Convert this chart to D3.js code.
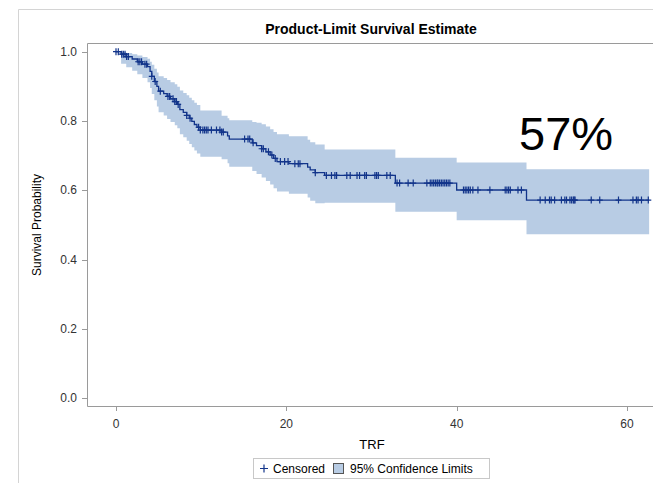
<!DOCTYPE html>
<html>
<head>
<meta charset="utf-8">
<script src="https://cdn.jsdelivr.net/npm/d3@7"></script>
<style>
  html, body { margin: 0; padding: 0; background: #fff; }
  svg { display: block; font-family: "Liberation Sans", Arial, sans-serif; }
</style>
</head>
<body>
<svg id="chart" width="653" height="483"></svg>
<script>
// Kaplan-Meier step values (time at which survival drops, value after the drop)
const eventTimes = [0, 0.6, 1.2, 1.9, 2.5, 3.1, 3.7, 4.0, 4.2, 4.5, 4.8, 5.0, 5.6, 6.0, 6.4, 6.9,
  7.2, 7.5, 7.9, 8.3, 8.6, 8.9, 9.2, 9.5, 9.9, 12.4, 13.1, 13.3, 16.0, 16.5, 17.1, 17.6,
  18.1, 18.5, 18.9, 20.3, 22.5, 22.8, 23.4, 24.5, 32.8, 40.0, 48.2];
const survival = [1.0, 0.993, 0.986, 0.979, 0.971, 0.964, 0.957, 0.943, 0.929, 0.914, 0.900, 0.886,
  0.879, 0.871, 0.864, 0.856, 0.848, 0.833, 0.825, 0.816, 0.808, 0.799, 0.790, 0.782, 0.774,
  0.768, 0.757, 0.748, 0.737, 0.729, 0.720, 0.711, 0.702, 0.692, 0.683, 0.677, 0.667, 0.659,
  0.651, 0.643, 0.621, 0.601, 0.572];
const lowerCL = [1.0, 0.965, 0.955, 0.945, 0.935, 0.924, 0.912, 0.895, 0.878, 0.860, 0.842, 0.825,
  0.816, 0.806, 0.797, 0.788, 0.779, 0.762, 0.753, 0.743, 0.734, 0.724, 0.715, 0.706, 0.697,
  0.690, 0.678, 0.668, 0.656, 0.647, 0.637, 0.627, 0.617, 0.606, 0.597, 0.590, 0.579, 0.570,
  0.563, 0.564, 0.538, 0.514, 0.473];
const upperCL = [1.0, 0.999, 0.996, 0.993, 0.989, 0.985, 0.980, 0.971, 0.962, 0.951, 0.940, 0.929,
  0.924, 0.918, 0.912, 0.906, 0.899, 0.888, 0.881, 0.874, 0.867, 0.860, 0.853, 0.846, 0.830,
  0.815, 0.808, 0.802, 0.797, 0.795, 0.791, 0.784, 0.776, 0.768, 0.762, 0.756, 0.746, 0.739,
  0.732, 0.718, 0.694, 0.680, 0.661];
const endTime = 62.6;

const censorTimes = [0, 0.27, 0.67, 0.86, 1.06, 1.25, 1.45, 2.6, 2.8, 3.0, 3.4, 3.6, 4.2, 4.6,
  5.2, 6.1, 6.3, 6.7, 6.9, 7.1, 7.3, 8.3, 8.7, 9.7, 9.9, 10.2, 10.4, 10.6, 10.8, 11.2, 11.8,
  12.2, 12.4, 12.6, 15.1, 15.5, 15.7, 16.1, 17.1, 17.3, 17.9, 18.3, 18.7, 19.3, 19.8, 20.2,
  21.0, 21.4, 21.6, 23.4, 24.7, 25.3, 25.7, 25.9, 27.1, 27.5, 28.3, 28.6, 29.2, 29.4, 30.4,
  30.6, 30.8, 31.8, 32.2, 33.0, 33.3, 34.3, 34.9, 36.5, 36.9, 37.1, 37.3, 37.5, 37.7, 37.8,
  38.0, 38.2, 38.4, 38.6, 38.8, 39.0, 39.2, 40.8, 41.0, 41.2, 41.4, 41.6, 41.9, 42.5, 43.9,
  45.7, 45.9, 46.1, 46.3, 47.2, 47.6, 49.8, 50.4, 50.9, 51.1, 51.5, 52.3, 52.7, 52.9, 53.3,
  53.5, 53.7, 53.8, 53.9, 55.8, 56.8, 59.0, 60.7, 61.1, 61.3, 61.7, 62.5];

const xTicks = [0, 20, 40, 60];
const yTicks = [0, 0.2, 0.4, 0.6, 0.8, 1.0];
const yTickLabels = ["0.0", "0.2", "0.4", "0.6", "0.8", "1.0"];

const lineColor = "#12348a";
const bandColor = "#b8cce4";
const frameColor = "#9a9a9a";

const svg = d3.select("#chart");

const frame = { left: 87, top: 43, right: 660, bottom: 406 };
const x = d3.scaleLinear().domain([0, 60]).range([116, 627]);
const y = d3.scaleLinear().domain([0, 1]).range([398.3, 51.7]);

// outer graph border
svg.append("path")
  .attr("d", "M18.5,490V9.5H660")
  .attr("fill", "none")
  .attr("stroke", "#d4d4d4");

svg.append("text")
  .attr("x", 371)
  .attr("y", 34)
  .attr("text-anchor", "middle")
  .attr("font-size", 14)
  .attr("font-weight", "bold")
  .attr("fill", "#000")
  .text("Product-Limit Survival Estimate");

// step series
const steps = eventTimes.map((t, i) => ({ t, s: survival[i], lo: lowerCL[i], hi: upperCL[i] }));
steps.push({ t: endTime, s: survival[survival.length - 1], lo: lowerCL[lowerCL.length - 1], hi: upperCL[upperCL.length - 1] });

const plot = svg.append("g");

plot.append("path")
  .datum(steps)
  .attr("fill", bandColor)
  .attr("d", d3.area()
    .curve(d3.curveStepAfter)
    .x((d) => x(d.t))
    .y0((d) => y(d.lo))
    .y1((d) => y(d.hi)));

plot.append("path")
  .datum(steps)
  .attr("fill", "none")
  .attr("stroke", lineColor)
  .attr("stroke-width", 1.3)
  .attr("d", d3.line()
    .curve(d3.curveStepAfter)
    .x((d) => x(d.t))
    .y((d) => y(d.s)));

// censored marks sit on the curve
const bisect = d3.bisector((d) => d).right;
const survAt = (t) => survival[Math.max(0, bisect(eventTimes, t) - 1)];

plot.selectAll("path.censor")
  .data(censorTimes)
  .join("path")
  .attr("class", "censor")
  .attr("transform", (d) => `translate(${x(d)},${y(survAt(d))})`)
  .attr("d", "M-3,0H3M0,-3.5V3.5")
  .attr("fill", "none")
  .attr("stroke", lineColor)
  .attr("stroke-width", 1.2);

// frame
svg.append("path")
  .attr("d", `M${frame.right},${frame.top + 0.5}H${frame.left + 0.5}V${frame.bottom + 0.5}H${frame.right}`)
  .attr("fill", "none")
  .attr("stroke", frameColor);

// axes
const yAxisG = svg.append("g").attr("transform", `translate(${frame.left},0)`);
yAxisG.selectAll("line")
  .data(yTicks)
  .join("line")
  .attr("x1", -5).attr("x2", 0)
  .attr("y1", (d) => Math.round(y(d)) + 0.5)
  .attr("y2", (d) => Math.round(y(d)) + 0.5)
  .attr("stroke", frameColor);
yAxisG.selectAll("text")
  .data(yTicks)
  .join("text")
  .attr("x", -10)
  .attr("y", (d) => y(d) + 4)
  .attr("text-anchor", "end")
  .attr("font-size", 12)
  .attr("fill", "#333")
  .text((d, i) => yTickLabels[i]);

const xAxisG = svg.append("g").attr("transform", `translate(0,${frame.bottom})`);
xAxisG.selectAll("line")
  .data(xTicks)
  .join("line")
  .attr("x1", (d) => Math.round(x(d)) + 0.5)
  .attr("x2", (d) => Math.round(x(d)) + 0.5)
  .attr("y1", 0).attr("y2", 5)
  .attr("stroke", frameColor);
xAxisG.selectAll("text")
  .data(xTicks)
  .join("text")
  .attr("x", (d) => x(d))
  .attr("y", 22)
  .attr("text-anchor", "middle")
  .attr("font-size", 12)
  .attr("fill", "#333")
  .text((d) => d);

svg.append("text")
  .attr("x", 372)
  .attr("y", 449)
  .attr("text-anchor", "middle")
  .attr("font-size", 13)
  .attr("fill", "#000")
  .text("TRF");

svg.append("text")
  .attr("transform", "translate(41,225) rotate(-90)")
  .attr("text-anchor", "middle")
  .attr("font-size", 12)
  .attr("fill", "#000")
  .text("Survival Probability");

// big annotation
svg.append("text")
  .attr("x", 519)
  .attr("y", 150)
  .attr("font-size", 47)
  .attr("fill", "#000")
  .text("57%");

// legend
const legend = svg.append("g");
legend.append("rect")
  .attr("x", 253.5).attr("y", 458.5)
  .attr("width", 236).attr("height", 20)
  .attr("fill", "#fff")
  .attr("stroke", "#c8c8c8");
legend.append("path")
  .attr("transform", "translate(264,468.5)")
  .attr("d", "M-4,0H4M0,-4V4")
  .attr("stroke", lineColor)
  .attr("stroke-width", 1.2);
legend.append("text")
  .attr("x", 273).attr("y", 473)
  .attr("font-size", 12)
  .attr("fill", "#000")
  .text("Censored");
legend.append("rect")
  .attr("x", 333.5).attr("y", 463.5)
  .attr("width", 10).attr("height", 10)
  .attr("fill", bandColor)
  .attr("stroke", "#555");
legend.append("text")
  .attr("x", 350).attr("y", 473)
  .attr("font-size", 12)
  .attr("fill", "#000")
  .text("95% Confidence Limits");
</script>
</body>
</html>
